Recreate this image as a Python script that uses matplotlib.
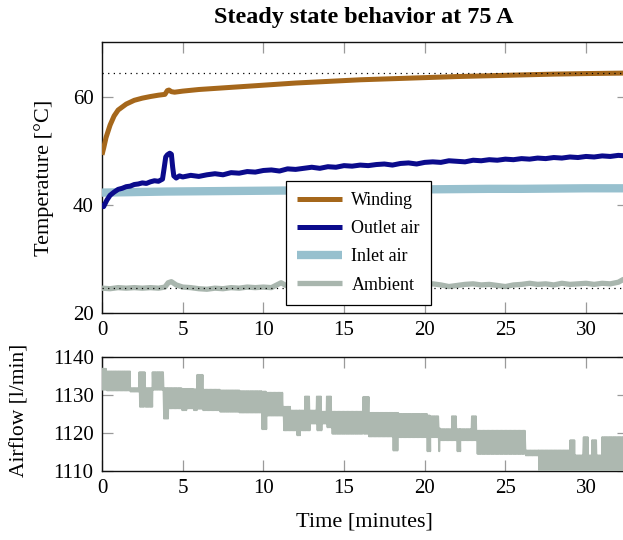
import numpy as np
import matplotlib
matplotlib.use("Agg")
import matplotlib.pyplot as plt

plt.rcParams['font.family'] = ['Liberation Serif', 'DejaVu Serif']
plt.rcParams['mathtext.fontset'] = 'stix'

# ---- temperature series (minutes, degrees C) ----
t_winding = [0.0, 0.1, 0.25, 0.5, 0.75, 1.0, 1.5, 2.0, 2.5, 3.0, 3.5, 3.9, 4.05,
             4.15, 4.3, 4.5, 5.0, 6.0, 8.0, 10.0, 12.0, 14.0, 16.0, 18.0, 20.0,
             22.0, 24.0, 26.0, 28.0, 30.0, 32.6]
winding = [49.3, 50.5, 52.5, 54.8, 56.5, 57.6, 58.7, 59.4, 59.8, 60.1, 60.35, 60.5,
           61.2, 61.3, 61.0, 60.9, 61.1, 61.4, 61.8, 62.2, 62.6, 62.9, 63.2, 63.4,
           63.6, 63.8, 63.95, 64.1, 64.25, 64.35, 64.45]

t_outlet = [0.0, 0.1, 0.3, 0.5, 0.75, 1.0, 1.25, 1.5, 1.75, 2.0, 2.25, 2.5, 2.75,
            3.0, 3.25, 3.5, 3.75, 3.85, 3.95, 4.05, 4.2, 4.3, 4.38, 4.45, 4.6,
            4.8, 5.0, 5.5, 6.0, 6.5, 7.0, 7.5, 8.0, 8.5, 9.0, 9.5, 10.0, 10.5,
            11.0, 11.5, 12.0, 12.5, 13.0, 13.5, 14.0, 14.5, 15.0, 15.5, 16.0,
            16.5, 17.0, 17.5, 18.0, 18.5, 19.0, 19.5, 20.0, 20.5, 21.0, 21.5,
            22.0, 22.5, 23.0, 23.5, 24.0, 24.5, 25.0, 25.5, 26.0, 26.5, 27.0,
            27.5, 28.0, 28.5, 29.0, 29.5, 30.0, 30.5, 31.0, 31.5, 32.0, 32.5, 32.6]
outlet = [40.3, 39.7, 40.9, 41.8, 42.4, 42.9, 43.1, 43.4, 43.5, 43.8, 43.9, 44.1,
          44.0, 44.3, 44.5, 44.4, 44.8, 46.8, 48.9, 49.3, 49.6, 49.4, 47.0, 45.4,
          45.0, 45.4, 45.2, 45.5, 45.3, 45.6, 45.8, 45.6, 46.0, 45.9, 46.2, 46.1,
          46.4, 46.5, 46.3, 46.7, 46.6, 46.8, 47.0, 46.8, 47.1, 47.0, 47.3, 47.2,
          47.4, 47.3, 47.5, 47.6, 47.4, 47.7, 47.8, 47.6, 47.9, 48.0, 47.9, 48.2,
          48.1, 48.0, 48.3, 48.2, 48.4, 48.3, 48.5, 48.4, 48.6, 48.5, 48.7, 48.6,
          48.8, 48.7, 48.9, 48.8, 49.0, 48.9, 49.1, 49.0, 49.2, 49.1, 49.2]

t_inlet = [0, 1, 2, 4, 6, 8, 10, 12, 14, 16, 18, 20, 22, 24, 26, 28, 30, 32.6]
inlet = [42.3, 42.35, 42.4, 42.5, 42.55, 42.6, 42.65, 42.7, 42.75, 42.8, 42.85,
         42.9, 42.95, 43.0, 43.0, 43.05, 43.1, 43.1]

t_ambient = [0, 0.5, 1, 1.5, 2, 2.5, 3, 3.5, 3.9, 4.1, 4.3, 4.6, 5, 5.5, 6, 6.5, 7,
             7.5, 8, 8.5, 9, 9.5, 10, 10.5, 10.9, 11.1, 11.4, 11.8, 12.5, 13, 13.5,
             14, 15, 16, 17, 18, 19, 19.5, 20, 20.5, 21, 21.5, 22, 22.5, 23, 23.5,
             24, 24.5, 25, 25.5, 26, 26.5, 27, 27.5, 28, 28.5, 29, 29.5, 30, 30.5,
             31, 31.5, 32.0, 32.3, 32.6]
ambient = [24.6, 24.5, 24.7, 24.6, 24.7, 24.6, 24.7, 24.6, 24.8, 25.6, 25.8, 25.2,
           24.8, 24.7, 24.5, 24.4, 24.6, 24.5, 24.7, 24.6, 24.8, 24.7, 24.8, 24.7,
           25.3, 25.6, 25.1, 24.9, 25.0, 24.8, 24.9, 25.0, 24.9, 25.1, 25.0, 25.1,
           25.2, 25.3, 25.2, 25.4, 25.2, 24.9, 25.1, 25.3, 25.4, 25.2, 25.3, 25.1,
           24.9, 25.2, 25.3, 25.5, 25.3, 25.4, 25.2, 25.5, 25.3, 25.4, 25.5, 25.3,
           25.5, 25.4, 25.7, 26.2, 26.0]

# reference temperature levels (dotted)
ref_levels = [64.5, 24.6]

# ---- airflow (l/min): sensor toggles between an upper and lower reading ----
air_start = [0.00, 0.29, 1.74, 2.32, 2.67, 3.14, 3.81, 4.12, 4.94, 5.25, 5.67, 5.91,
             6.24, 7.30, 8.50, 9.90, 10.21, 11.25, 11.66, 12.07, 12.28, 12.59,
             12.90, 13.32, 13.63, 13.94, 14.25, 16.20, 16.52, 18.03, 18.38, 20.14,
             20.35, 20.86, 20.97, 21.69, 22.00, 22.21, 22.93, 23.24, 26.24, 27.07,
             29.03, 29.34, 29.86, 30.17, 30.38, 30.69, 31.00]
air_hi = [1136.9, 1136.2, 1131.8, 1136.0, 1131.8, 1136.0, 1131.8, 1131.8, 1131.6,
          1131.6, 1131.5, 1135.3, 1131.4, 1131.2, 1131.0, 1130.9, 1130.6, 1126.9,
          1125.9, 1125.9, 1125.9, 1129.6, 1125.9, 1129.6, 1125.6, 1129.6, 1125.6,
          1129.5, 1125.3, 1125.3, 1125.0, 1124.6, 1124.4, 1121.2, 1121.0, 1124.4,
          1121.0, 1121.0, 1124.4, 1120.6, 1115.4, 1115.4, 1118.1, 1114.1, 1118.9,
          1114.1, 1118.1, 1114.1, 1118.9]
air_lo = [1131.4, 1131.2, 1130.9, 1126.9, 1126.9, 1131.4, 1123.8, 1126.5, 1126.0,
          1126.5, 1126.0, 1126.4, 1126.0, 1125.6, 1125.4, 1121.0, 1124.6, 1120.7,
          1120.7, 1119.4, 1120.7, 1120.7, 1122.5, 1120.7, 1122.5, 1121.5, 1119.8,
          1119.8, 1119.1, 1115.4, 1118.9, 1115.2, 1118.9, 1115.2, 1118.1, 1118.1,
          1115.2, 1118.1, 1118.1, 1114.5, 1114.1, 1109.5, 1109.5, 1109.5, 1109.5,
          1109.5, 1109.5, 1109.5, 1109.5]
air_end = 32.6

x_ticks = [0, 5, 10, 15, 20, 25, 30]
temp_ticks = [20, 40, 60]
air_ticks = [1110, 1120, 1130, 1140]

c_winding = '#A5671B'
c_outlet = '#0B0B8C'
c_inlet = '#97C0CE'
c_ambient = '#A9B6AE'
c_air = '#ADB8B0'

W, H = 623, 540
fig = plt.figure(figsize=(W / 100, H / 100), dpi=100)


def px_axes(left, top, right, bottom):
    return fig.add_axes([left / W, 1 - bottom / H, (right - left) / W, (bottom - top) / H])


ax1 = px_axes(102, 42, 628, 313)
ax2 = px_axes(102, 357, 628, 471)

for ax in (ax1, ax2):
    ax.set_xlim(0, 32.6)
    ax.set_xticks(x_ticks)
    ax.tick_params(direction='in', length=7.7, width=0.9, color='#9a9a9a',
                   top=True, right=True, labelsize=15, pad=6)
    for s in ax.spines.values():
        s.set_linewidth(1.0)
        s.set_color('#111111')

# temperatures
for lvl in ref_levels:
    ax1.axhline(lvl, color='black', lw=0.9, ls=(0, (1, 3.5)), zorder=5)
ax1.plot(t_ambient, ambient, color=c_ambient, lw=3.8, label='Ambient', zorder=3,
         solid_capstyle='butt')
ax1.plot(t_inlet, inlet, color=c_inlet, lw=6.0, label='Inlet air', zorder=3,
         solid_capstyle='butt')
ax1.plot(t_outlet, outlet, color=c_outlet, lw=3.6, label='Outlet air', zorder=4,
         solid_capstyle='butt')
ax1.plot(t_winding, winding, color=c_winding, lw=3.6, label='Winding', zorder=4,
         solid_capstyle='butt')
ax1.set_ylim(20, 70.2)
ax1.set_yticks(temp_ticks)
ax1.set_ylabel('Temperature [°C]', fontsize=16)
ax1.yaxis.set_label_coords(-0.092, 0.5)

handles, labels = ax1.get_legend_handles_labels()
order = [3, 2, 1, 0]
leg = ax1.legend([handles[i] for i in order], [labels[i] for i in order],
                 loc='upper left', bbox_to_anchor=(0.35, 0.488), fontsize=13,
                 frameon=True, fancybox=False, edgecolor='black', framealpha=1,
                 handlelength=2.45, handletextpad=0.55, labelspacing=0.62,
                 borderpad=0.62, borderaxespad=0)
leg.get_frame().set_linewidth(0.9)
leg.set_zorder(10)

# airflow: alternate between the upper and lower reading at every sample
bounds = air_start + [air_end]
air_t, air_v = [], []
for i in range(len(air_start)):
    ts = np.arange(bounds[i], bounds[i + 1], 0.04)
    for k, tt in enumerate(ts):
        air_t.append(tt)
        air_v.append(air_hi[i] if k % 2 == 0 else air_lo[i])
ax2.plot(air_t, air_v, color=c_air, lw=1.4, zorder=3)
ax2.set_ylim(1110, 1140)
ax2.set_yticks(air_ticks)
ax2.set_ylabel('Airflow [l/min]', fontsize=15.5)
ax2.yaxis.set_label_coords(-0.138, 0.53)
ax2.set_xlabel('Time [minutes]', fontsize=16)
ax2.xaxis.set_label_coords(0.498, -0.365)

fig.text(364 / W, 1 - 18 / H, 'Steady state behavior at 75 A', ha='center',
         va='center', fontsize=17.4, fontweight='bold')

fig.savefig('out.png', dpi=100)
